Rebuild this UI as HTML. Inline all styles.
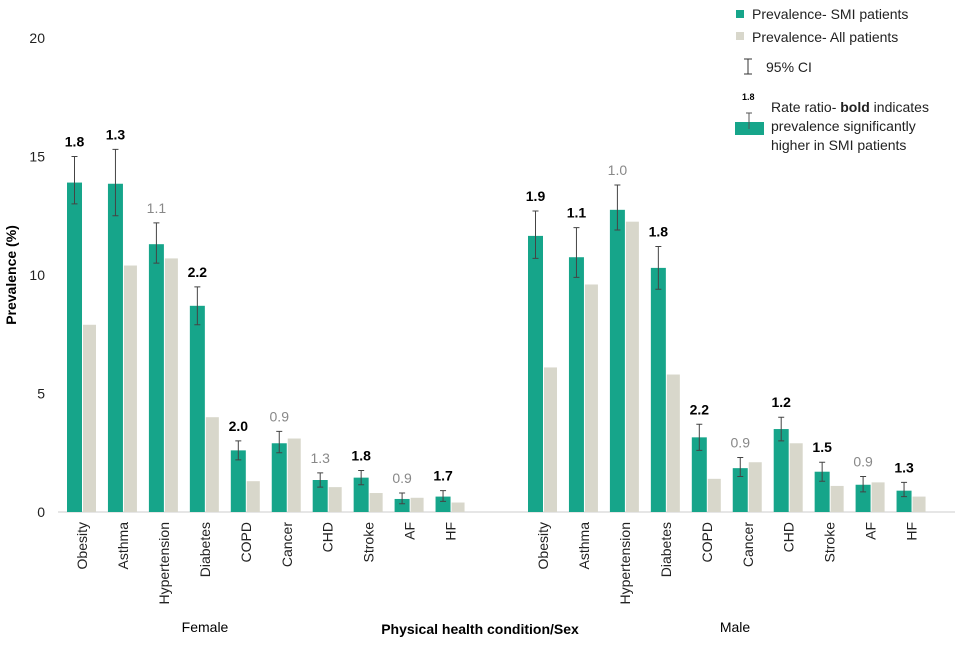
<!DOCTYPE html>
<html><head><meta charset="utf-8"><style>
body{margin:0;background:#fff;font-family:"Liberation Sans",Arial,sans-serif;}
svg text{font-family:"Liberation Sans",Arial,sans-serif;}
</style></head><body>
<svg id="chart" width="960" height="640" xmlns="http://www.w3.org/2000/svg">
<g id="axes"></g>
<g id="bars"></g>
<text x="205" y="632" font-size="14" text-anchor="middle" fill="#000">Female</text>
<text x="735" y="632" font-size="14" text-anchor="middle" fill="#000">Male</text>
<text x="480" y="634" font-size="14" font-weight="bold" text-anchor="middle" fill="#000">Physical health condition/Sex</text>
<text transform="translate(16,275) rotate(-90)" font-size="14" font-weight="bold" text-anchor="middle" fill="#000">Prevalence (%)</text>
<g>
<rect x="736" y="10" width="8" height="8" fill="#16a58a"/>
<text x="752" y="19" font-size="14" fill="#222">Prevalence- SMI patients</text>
<rect x="736" y="32" width="8" height="8" fill="#d8d7cb"/>
<text x="752" y="42" font-size="14" fill="#222">Prevalence- All patients</text>
<path d="M744 59 H752 M748 59 V74 M744 74 H752" stroke="#333" stroke-width="1" fill="none"/>
<text x="766" y="72" font-size="14" fill="#222">95% CI</text>
<text x="742" y="100" font-size="9" font-weight="bold" fill="#000">1.8</text>
<rect x="735" y="122" width="29" height="13" fill="#16a58a"/>
<path d="M746 113 H752 M749 113 V129" stroke="#555" stroke-width="1"/>
<text x="771" y="112" font-size="14" fill="#222">Rate ratio- <tspan font-weight="bold">bold</tspan> indicates</text>
<text x="771" y="131" font-size="14" fill="#222">prevalence significantly</text>
<text x="771" y="150" font-size="14" fill="#222">higher in SMI patients</text>
</g>
</svg>
<script>
const categories=["Obesity","Asthma","Hypertension","Diabetes","COPD","Cancer","CHD","Stroke","AF","HF"];
const femaleSMI=[13.9,13.85,11.3,8.7,2.6,2.9,1.35,1.45,0.55,0.65];
const femaleAll=[7.9,10.4,10.7,4.0,1.3,3.1,1.05,0.8,0.6,0.4];
const femaleLo=[13.0,12.5,10.5,7.9,2.2,2.5,1.05,1.15,0.35,0.45];
const femaleHi=[15.0,15.3,12.2,9.5,3.0,3.4,1.65,1.75,0.8,0.9];
const femaleRatio=["1.8","1.3","1.1","2.2","2.0","0.9","1.3","1.8","0.9","1.7"];
const femaleSig=[1,1,0,1,1,0,0,1,0,1];
const maleSMI=[11.65,10.75,12.75,10.3,3.15,1.85,3.5,1.7,1.15,0.9];
const maleAll=[6.1,9.6,12.25,5.8,1.4,2.1,2.9,1.1,1.25,0.65];
const maleLo=[10.7,9.9,11.9,9.4,2.6,1.5,3.0,1.3,0.85,0.65];
const maleHi=[12.7,12.0,13.8,11.2,3.7,2.3,4.0,2.1,1.5,1.25];
const maleRatio=["1.9","1.1","1.0","1.8","2.2","0.9","1.2","1.5","0.9","1.3"];
const maleSig=[1,1,0,1,1,0,1,1,0,1];
const yTicks=[0,5,10,15,20];
const NS="http://www.w3.org/2000/svg";
function y(v){return 512-v*23.7;}
function xc(g,i){return (g===0?82:543)+i*40.95;}
function mk(t,a,parent){const e=document.createElementNS(NS,t);for(const k in a)e.setAttribute(k,a[k]);parent.appendChild(e);return e;}
const axes=document.getElementById('axes'),bars=document.getElementById('bars');
yTicks.forEach(t=>{const e=mk('text',{x:45,y:y(t)+5,'font-size':14,'text-anchor':'end',fill:'#222'},axes);e.textContent=t;

});
const base=mk('line',{x1:58,x2:955,y1:512,y2:512,stroke:'#ccc'},axes);


[[femaleSMI,femaleAll,femaleLo,femaleHi,femaleRatio,femaleSig],[maleSMI,maleAll,maleLo,maleHi,maleRatio,maleSig]].forEach((d,g)=>{
categories.forEach((c,i)=>{
const cx=xc(g,i);
const r1=mk('rect',{x:cx-15,y:y(d[0][i]),width:15,height:512-y(d[0][i]),fill:'#16a58a'},bars);


const r2=mk('rect',{x:cx+1,y:y(d[1][i]),width:13,height:512-y(d[1][i]),fill:'#d8d7cb'},bars);


const ex=cx-7.5;
const eb=mk('path',{d:`M${ex-3} ${y(d[3][i])} H${ex+3} M${ex} ${y(d[3][i])} V${y(d[2][i])} M${ex-3} ${y(d[2][i])} H${ex+3}`,stroke:'#444','stroke-width':1,fill:'none'},bars);


const rt=mk('text',{x:ex,y:y(d[3][i])-10,'font-size':14,'text-anchor':'middle',fill:d[5][i]?'#000':'#888','font-weight':d[5][i]?'bold':'normal'},bars);
rt.textContent=d[4][i];


const cl=mk('text',{transform:`translate(${cx+5},522) rotate(-90)`,'font-size':14,'text-anchor':'end',fill:'#222'},bars);
cl.textContent=c;


});});
</script>
</body></html>
